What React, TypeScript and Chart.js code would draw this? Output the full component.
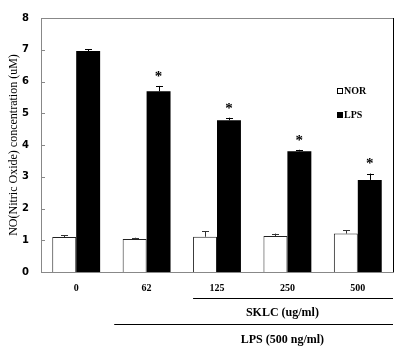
import React, { useEffect, useRef } from "react";
import { Chart, registerables } from "chart.js";

Chart.register(...registerables);

const categories = ["0", "62", "125", "250", "500"];
const norValues = [1.1, 1.04, 1.11, 1.13, 1.21];
const norErrors = [0.05, 0.04, 0.17, 0.08, 0.11];
const lpsValues = [6.96, 5.69, 4.78, 3.8, 2.9];
const lpsErrors = [0.05, 0.17, 0.08, 0.05, 0.2];
const significant = [false, true, true, true, true];
const yTicks = [0, 1, 2, 3, 4, 5, 6, 7, 8];
const yTitle = "NO(Nitric Oxide) concentration (uM)";
const sklcLabel = "SKLC (ug/ml)";
const lpsLabel = "LPS (500 ng/ml)";
const legendLabels = ["NOR", "LPS"];

const SERIF = "'Liberation Serif', 'Times New Roman', serif";

const overlayPlugin = {
  id: "overlay",
  afterDatasetsDraw(chart: any) {
    const ctx = chart.ctx;
    const area = chart.chartArea;
    const y = chart.scales.y;
    const x = chart.scales.x;
    ctx.save();

    // error bars
    const errs = [norErrors, lpsErrors];
    const vals = [norValues, lpsValues];
    [0, 1].forEach((di) => {
      const meta = chart.getDatasetMeta(di);
      meta.data.forEach((bar: any, i: number) => {
        const top = y.getPixelForValue(vals[di][i]);
        const end = y.getPixelForValue(vals[di][i] + errs[di][i]);
        ctx.strokeStyle = di === 0 ? "#333" : "#000";
        ctx.lineWidth = 1;
        ctx.beginPath();
        ctx.moveTo(Math.round(bar.x) + 0.5, top);
        ctx.lineTo(Math.round(bar.x) + 0.5, end);
        ctx.moveTo(Math.round(bar.x) - 3, Math.round(end) + 0.5);
        ctx.lineTo(Math.round(bar.x) + 4, Math.round(end) + 0.5);
        ctx.stroke();
        if (di === 1 && significant[i]) {
          ctx.fillStyle = "#000";
          ctx.font = `bold 15px ${SERIF}`;
          ctx.textAlign = "center";
          ctx.textBaseline = "middle";
          ctx.fillText("*", bar.x, end - 9);
        }
      });
    });

    // frame: top gray, right black
    ctx.strokeStyle = "#888";
    ctx.lineWidth = 1;
    ctx.beginPath();
    ctx.moveTo(area.left, Math.round(area.top) + 0.5);
    ctx.lineTo(area.right, Math.round(area.top) + 0.5);
    ctx.stroke();
    ctx.strokeStyle = "#000";
    ctx.beginPath();
    ctx.moveTo(Math.round(area.right) + 0.5, area.top);
    ctx.lineTo(Math.round(area.right) + 0.5, area.bottom);
    ctx.stroke();

    // inward y ticks
    ctx.strokeStyle = "#888";
    ctx.beginPath();
    yTicks.forEach((t) => {
      const py = Math.round(y.getPixelForValue(t)) + 0.5;
      ctx.moveTo(area.left, py);
      ctx.lineTo(area.left + 4, py);
    });
    ctx.stroke();

    // legend
    ctx.font = `bold 10px ${SERIF}`;
    ctx.textAlign = "left";
    ctx.textBaseline = "middle";
    const lx = area.right - 56;
    const ly = [area.top + 73, area.top + 97];
    legendLabels.forEach((lab, i) => {
      ctx.fillStyle = i === 0 ? "#fff" : "#000";
      ctx.strokeStyle = "#000";
      ctx.fillRect(lx, ly[i] - 3, 6, 6);
      ctx.strokeRect(lx + 0.5, ly[i] - 2.5, 5, 5);
      ctx.fillStyle = "#000";
      ctx.fillText(lab, lx + 7, ly[i] + 0.5);
    });

    // y title
    ctx.save();
    ctx.translate(14, (area.top + area.bottom) / 2);
    ctx.rotate(-Math.PI / 2);
    ctx.font = `12px ${SERIF}`;
    ctx.textAlign = "center";
    ctx.textBaseline = "middle";
    ctx.fillStyle = "#000";
    ctx.fillText(yTitle, 0, 0);
    ctx.restore();

    // bracket lines and labels under x axis
    const step = x.getPixelForValue(1) - x.getPixelForValue(0);
    ctx.strokeStyle = "#000";
    ctx.lineWidth = 1.2;
    ctx.beginPath();
    const l1 = x.getPixelForValue(2) - step * 0.34;
    ctx.moveTo(l1, area.bottom + 26.5);
    ctx.lineTo(area.right, area.bottom + 26.5);
    const l2 = x.getPixelForValue(1) - step * 0.46;
    ctx.moveTo(l2, area.bottom + 52.5);
    ctx.lineTo(area.right, area.bottom + 52.5);
    ctx.stroke();
    ctx.fillStyle = "#000";
    ctx.font = `bold 12px ${SERIF}`;
    ctx.textAlign = "center";
    ctx.textBaseline = "middle";
    const cx = x.getPixelForValue(3) - 5;
    ctx.fillText(sklcLabel, cx, area.bottom + 41);
    ctx.fillText(lpsLabel, cx, area.bottom + 68);

    ctx.restore();
  },
};

export default function App() {
  const ref = useRef<HTMLCanvasElement>(null);
  useEffect(() => {
    document.body.style.margin = "0";
    const chart = new Chart(ref.current!, {
      type: "bar",
      data: {
        labels: categories,
        datasets: [
          {
            label: "NOR",
            data: norValues,
            backgroundColor: "#fff",
            borderColor: "#222",
            borderWidth: 1,
          },
          {
            label: "LPS",
            data: lpsValues,
            backgroundColor: "#000",
            borderColor: "#000",
            borderWidth: 0,
          },
        ],
      },
      options: {
        animation: false,
        responsive: false,
        layout: { padding: { top: 16, right: 21, left: 0, bottom: 0 } },
        plugins: { legend: { display: false }, tooltip: { enabled: false } },
        datasets: { bar: { categoryPercentage: 0.68, barPercentage: 1 } },
        scales: {
          x: {
            grid: { display: false, drawTicks: false },
            border: { display: true, color: "#888" },
            ticks: {
              color: "#000",
              padding: 10,
              font: { family: SERIF, size: 10, weight: "bold" },
            },
            afterFit: (s: any) => {
              s.height = 78;
            },
          },
          y: {
            min: 0,
            max: 8,
            grid: { display: false, drawTicks: false },
            border: { display: true, color: "#888" },
            ticks: {
              stepSize: 1,
              color: "#000",
              padding: 12,
              font: { family: "'DejaVu Sans', sans-serif", size: 10, weight: "bold" },
            },
            afterFit: (s: any) => {
              s.width = 41;
            },
          },
        },
      },
      plugins: [overlayPlugin],
    });
    return () => chart.destroy();
  }, []);
  return <canvas ref={ref} width={414} height={350} style={{ display: "block" }} />;
}
